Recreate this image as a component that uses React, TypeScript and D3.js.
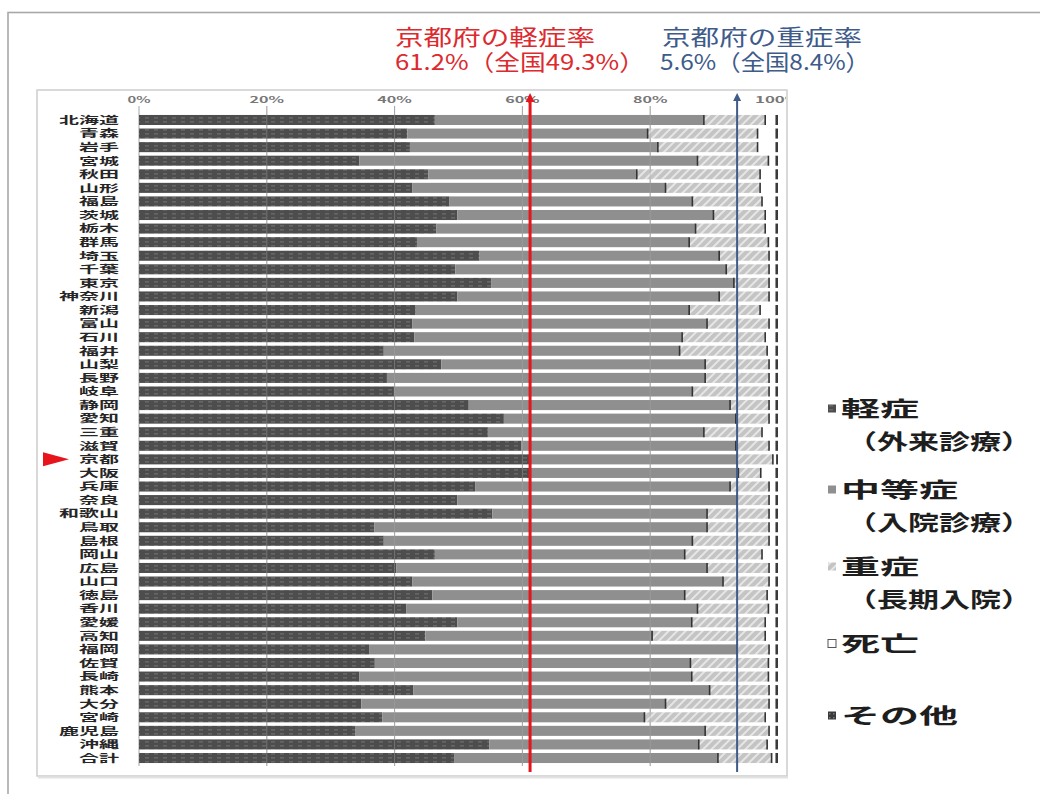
import React from "react";
import * as d3 from "d3";

// 都道府県別 救急搬送人員の傷病程度構成比（%）
const prefectures = [
  "北海道", "青森", "岩手", "宮城", "秋田", "山形", "福島", "茨城", "栃木", "群馬",
  "埼玉", "千葉", "東京", "神奈川", "新潟", "富山", "石川", "福井", "山梨", "長野",
  "岐阜", "静岡", "愛知", "三重", "滋賀", "京都", "大阪", "兵庫", "奈良", "和歌山",
  "鳥取", "島根", "岡山", "広島", "山口", "徳島", "香川", "愛媛", "高知", "福岡",
  "佐賀", "長崎", "熊本", "大分", "宮崎", "鹿児島", "沖縄", "合計",
];

const mild = [
  46.3, 42.0, 42.4, 34.5, 45.3, 42.8, 48.6, 49.8, 46.5, 43.5,
  53.3, 49.5, 55.1, 49.8, 43.3, 42.8, 43.1, 38.3, 47.3, 38.8,
  39.9, 51.6, 57.1, 54.6, 59.8, 61.2, 61.3, 52.6, 49.8, 55.3,
  36.8, 38.3, 46.3, 40.3, 42.8, 45.9, 41.8, 49.8, 44.8, 36.0,
  36.9, 34.5, 42.9, 34.8, 38.1, 33.9, 54.8, 49.3,
];

const moderate = [
  42.1, 37.6, 38.8, 52.9, 32.6, 39.6, 38.0, 40.1, 40.6, 42.6,
  37.5, 42.4, 38.0, 41.0, 42.8, 46.1, 41.9, 46.3, 41.3, 49.8,
  46.7, 40.9, 36.3, 33.8, 33.6, 32.4, 32.5, 39.9, 43.8, 33.6,
  52.1, 48.3, 39.1, 48.6, 48.6, 39.5, 45.6, 36.7, 35.5, 57.6,
  49.4, 52.0, 46.4, 47.6, 41.0, 54.7, 32.8, 41.3,
];

const severe = [
  9.6, 17.2, 15.6, 11.1, 19.3, 14.8, 10.9, 8.1, 10.9, 12.4,
  7.8, 6.7, 5.5, 7.8, 11.1, 9.7, 13.0, 13.7, 10.0, 10.0,
  12.0, 6.1, 5.2, 9.1, 5.2, 5.6, 3.5, 6.1, 5.0, 9.7,
  9.7, 12.0, 12.1, 9.7, 7.2, 12.9, 11.1, 11.5, 17.7, 5.0,
  12.2, 12.0, 9.3, 16.2, 18.9, 10.0, 10.7, 8.4,
];

const death = [
  1.6, 2.8, 2.8, 1.1, 2.4, 2.4, 2.1, 1.6, 1.6, 1.1,
  1.0, 1.0, 1.0, 1.0, 2.4, 1.0, 1.6, 1.3, 1.0, 1.0,
  1.0, 1.0, 1.0, 2.1, 1.0, 0.5, 2.3, 1.0, 1.0, 1.0,
  1.0, 1.0, 2.1, 1.0, 1.0, 1.3, 1.1, 1.6, 1.6, 1.0,
  1.1, 1.1, 1.0, 1.0, 1.6, 1.0, 1.3, 0.6,
];

const other = [
  0.4, 0.4, 0.4, 0.4, 0.4, 0.4, 0.4, 0.4, 0.4, 0.4,
  0.4, 0.4, 0.4, 0.4, 0.4, 0.4, 0.4, 0.4, 0.4, 0.4,
  0.4, 0.4, 0.4, 0.4, 0.4, 0.3, 0.4, 0.4, 0.4, 0.4,
  0.4, 0.4, 0.4, 0.4, 0.4, 0.4, 0.4, 0.4, 0.4, 0.4,
  0.4, 0.4, 0.4, 0.4, 0.4, 0.4, 0.4, 0.4,
];

const seriesKeys = ["mild", "moderate", "severe", "death", "other"];
const xTicks = [0, 20, 40, 60, 80, 100];
const gridTicks = [0, 20, 40, 60, 80];

const legendItems = [
  { key: "mild", name: "軽症", sub: "（外来診療）" },
  { key: "moderate", name: "中等症", sub: "（入院診療）" },
  { key: "severe", name: "重症", sub: "（長期入院）" },
  { key: "death", name: "死亡", sub: "" },
  { key: "other", name: "その他", sub: "" },
];

const highlight = "京都";
const totalRow = "合計";

const JP = "'Noto Sans CJK JP', 'Noto Sans', sans-serif";

const fills: Record<string, string> = {
  mild: "url(#pMild)",
  moderate: "#8f8f8f",
  severe: "url(#pSevere)",
  death: "#ffffff",
  other: "#3a3a3a",
};

export default function App() {
  const table = prefectures.map((p, i) => ({
    pref: p,
    mild: mild[i],
    moderate: moderate[i],
    severe: severe[i],
    death: death[i],
    other: other[i],
  }));
  const stacked = d3.stack<any>().keys(seriesKeys)(table);

  const x = d3.scaleLinear().domain([0, 100]).range([139, 778]);
  const y = d3
    .scaleBand<string>()
    .domain(prefectures)
    .range([113.2, 764.8])
    .paddingInner(0.26)
    .paddingOuter(0.13);
  const bw = y.bandwidth();

  const ki = prefectures.indexOf(highlight);
  const ti = prefectures.indexOf(totalRow);
  const redX = x(mild[ki]);
  const blueX = x(mild[ki] + moderate[ki]);
  const kyY = (y(highlight) as number) + bw / 2;

  const fmtPct = (v: number) => `${v.toFixed(1)}%`;

  const legendX = 828;
  const legendBase = [416, 497, 574, 651, 723];

  return (
    <svg
      width={1040}
      height={794}
      style={{ position: "absolute", left: 0, top: 0, background: "#fff" }}
    >
      <defs>
        <pattern id="pMild" patternUnits="userSpaceOnUse" width={9} height={4}>
          <rect width={9} height={4} fill="#4d4d4d" />
          <rect x={1} y={1.2} width={4} height={1.3} fill="#6c6c6c" />
        </pattern>
        <pattern id="pOther" patternUnits="userSpaceOnUse" width={4} height={4}>
          <rect width={4} height={4} fill="#3a3a3a" />
          <rect x={1} y={1} width={1.5} height={1.5} fill="#777" />
        </pattern>
        <pattern
          id="pSevere"
          patternUnits="userSpaceOnUse"
          width={6}
          height={6}
          patternTransform="rotate(45)"
        >
          <rect width={6} height={6} fill="#c4c4c4" />
          <rect x={0} y={0} width={2} height={6} fill="#e6e6e6" />
        </pattern>
        <clipPath id="plotClip">
          <rect x={37} y={90} width={749} height={688} />
        </clipPath>
      </defs>

      {/* outer frame */}
      <rect x={8} y={12.5} width={1100} height={900} fill="none" stroke="#a8a8a8" strokeWidth={1.6} />

      {/* headline texts */}
      <g fontFamily={JP} fontSize={22}>
        <text x={395} y={45} fill="#dc2a2f" textLength={200} lengthAdjust="spacingAndGlyphs">
          京都府の軽症率
        </text>
        <text x={395} y={70} fill="#dc2a2f" textLength={250} lengthAdjust="spacingAndGlyphs">
          {`${fmtPct(mild[ki])}（全国${fmtPct(mild[ti])}）`}
        </text>
        <text x={662} y={45} fill="#3e5b8a" textLength={200} lengthAdjust="spacingAndGlyphs">
          京都府の重症率
        </text>
        <text x={660} y={70} fill="#3e5b8a" textLength={210} lengthAdjust="spacingAndGlyphs">
          {`${fmtPct(severe[ki])}（全国${fmtPct(severe[ti])}）`}
        </text>
      </g>

      {/* chart frame */}
      <rect x={37} y={90} width={750} height={686} fill="#fff" stroke="#cdcdcd" strokeWidth={1.5} />
      <line x1={38} x2={788} y1={777.5} y2={777.5} stroke="#e2e2e2" strokeWidth={2} />

      <g clipPath="url(#plotClip)">
        {/* x tick labels */}
        <g fontFamily={JP} fontSize={9} fontWeight={700} fill="#777">
          {xTicks.map((t) => {
            const label = `${t}%`;
            const len = label.length * 11.5;
            return (
              <text
                key={t}
                x={x(t) - len / 2}
                y={103}
                textLength={len}
                lengthAdjust="spacingAndGlyphs"
              >
                {label}
              </text>
            );
          })}
        </g>

        {/* gridlines behind bars */}
        {gridTicks.map((t) => (
          <line key={t} x1={x(t)} x2={x(t)} y1={106} y2={766} stroke="#a5a5a5" strokeWidth={1} />
        ))}

        {/* stacked bars */}
        {stacked.map((s) => (
          <g key={s.key}>
            {s.map((d, i) => {
              const x0 = x(d[0]);
              const x1 = x(d[1]);
              const yy = y(prefectures[i]) as number;
              return (
                <rect
                  key={i}
                  x={x0}
                  y={yy}
                  width={Math.max(0, x1 - x0)}
                  height={bw}
                  fill={fills[s.key]}
                />
              );
            })}
          </g>
        ))}

        {/* segment edges */}
        {stacked
          .filter((s) => s.key === "severe" || s.key === "death")
          .map((s) => (
            <g key={`e-${s.key}`}>
              {s.map((d, i) => {
                const yy = y(prefectures[i]) as number;
                return (
                  <line
                    key={i}
                    x1={x(d[0])}
                    x2={x(d[0])}
                    y1={yy}
                    y2={yy + bw}
                    stroke="#333"
                    strokeWidth={1.6}
                  />
                );
              })}
            </g>
          ))}

        {/* faint gridlines over bars */}
        {gridTicks.slice(1).map((t) => (
          <line
            key={`o${t}`}
            x1={x(t)}
            x2={x(t)}
            y1={106}
            y2={766}
            stroke="#a8a8a8"
            strokeOpacity={0.45}
            strokeWidth={1}
          />
        ))}

        {/* category labels */}
        <g fontFamily={JP} fontSize={10.2} fontWeight={700} fill="#262626">
          {prefectures.map((p) => {
            const len = p.length * 20;
            return (
              <text
                key={p}
                x={119 - len}
                y={(y(p) as number) + bw / 2 + 3.8}
                textLength={len}
                lengthAdjust="spacingAndGlyphs"
              >
                {p}
              </text>
            );
          })}
        </g>

        {/* reference lines for Kyoto */}
        <line x1={redX} x2={redX} y1={100} y2={772} stroke="#e3161d" strokeWidth={3} />
        <path d={`M${redX - 4.5},${102} L${redX},${93} L${redX + 4.5},${102} Z`} fill="#e3161d" />
        <line x1={blueX} x2={blueX} y1={100} y2={772} stroke="#3e5b8a" strokeWidth={2} />
        <path d={`M${blueX - 4},${101} L${blueX},${93} L${blueX + 4},${101} Z`} fill="#3e5b8a" />

        {/* marker for Kyoto row */}
        <path d={`M43,${kyY - 7} L69,${kyY} L43,${kyY + 7} Z`} fill="#e8141c" />
      </g>

      {/* legend */}
      <g fontFamily={JP} fontSize={21} fontWeight={700} fill="#1e1e1e">
        {legendItems.map((item, i) => {
          const base = legendBase[i];
          const nameLen = item.name.length * 39;
          return (
            <g key={item.key}>
              <rect
                x={legendX}
                y={base - 11.5}
                width={8}
                height={8}
                fill={item.key === "other" ? "url(#pOther)" : fills[item.key]}
                stroke={item.key === "death" ? "#555" : "none"}
                strokeWidth={1}
              />
              <text x={841} y={base} textLength={nameLen} lengthAdjust="spacingAndGlyphs">
                {item.name}
              </text>
              {item.sub && (
                <text
                  x={846}
                  y={base + 33}
                  textLength={186}
                  lengthAdjust="spacingAndGlyphs"
                >
                  {item.sub}
                </text>
              )}
            </g>
          );
        })}
      </g>
    </svg>
  );
}
